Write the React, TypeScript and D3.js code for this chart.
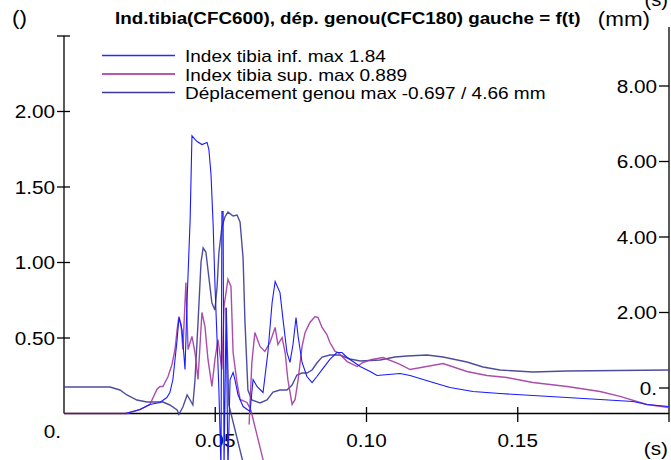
import * as d3 from 'd3'

type Pt = [number, number] | null

// time (s), value
const tibiaInf: Pt[] = [
  [0, 0], [0.0202, 0], [0.0251, 0.026], [0.0284, 0.06], [0.0317, 0.073], [0.034, 0.106],
  [0.035, 0.139], [0.036, 0.225], [0.0367, 0.358], [0.0374, 0.49], [0.038, 0.636], [0.039, 0.556],
  [0.04, 0.291], [0.0407, 0.755], [0.0417, 1.285], [0.0423, 1.84], [0.0433, 1.815], [0.044, 1.801],
  [0.0456, 1.781], [0.0473, 1.795], [0.0479, 1.748], [0.0486, 1.583], [0.0493, 1.252], [0.0499, 0.854],
  [0.0506, 0.49], [0.0512, 0.159], [0.0519, -0.37], [0.0522, 1.338], [0.0526, 1.338], [0.0529, -0.37],
  [0.0536, 0.702], [0.0542, -0.37], [0.0549, 0.225], [0.0559, 0.272], [0.0565, 0.225], [0.0575, 0.126],
  [0.0592, 0.046], [0.0615, 0.013], [0.0625, 0.225], [0.0638, 0.179], [0.0658, 0.139], [0.0674, 0.404],
  [0.0688, 0.735], [0.0698, 0.874], [0.0714, 0.801], [0.0724, 0.623], [0.0737, 0.404], [0.0747, 0.338],
  [0.0757, 0.457], [0.0767, 0.636], [0.0774, 0.51], [0.0787, 0.338], [0.0803, 0.245], [0.082, 0.205],
  [0.0836, 0.245], [0.0853, 0.291], [0.0879, 0.358], [0.0902, 0.404], [0.0919, 0.404], [0.0936, 0.371],
  [0.0979, 0.311], [0.1012, 0.278], [0.1035, 0.252], [0.1111, 0.265], [0.1144, 0.252], [0.122, 0.205],
  [0.1276, 0.172], [0.1352, 0.146], [0.1441, 0.132], [0.155, 0.119], [0.1663, 0.106], [0.1772, 0.093],
  [0.1881, 0.079], [0.1927, 0.06], [0.2, 0.046],
]

const tibiaSup: Pt[] = [
  [0, 0], [0.0208, 0], [0.0251, 0.026], [0.0284, 0.06], [0.0307, 0.159], [0.0317, 0.179], [0.0327, 0.179],
  [0.0344, 0.245], [0.0357, 0.325], [0.0367, 0.424], [0.0374, 0.556], [0.038, 0.642], [0.0387, 0.589],
  [0.0393, 0.424], [0.0403, 0.868], [0.041, 0.424], [0.0423, 0.51], [0.0433, 0.404], [0.0443, 0.225],
  [0.0456, 0.669], [0.0466, 0.576], [0.0476, 0.358], [0.0489, 0.179], [0.0499, 0.358], [0.0509, 0.49],
  [0.0522, 0.291], [0.0529, 0.709], [0.0542, 0.889], [0.0552, 0.841], [0.0559, 0.404], [0.0572, 0.205],
  [0.0582, 0.093], [0.0605, 0.073], [0.0618, 0.02], [0.0658, -0.305], [0.0668, -0.4],
  null,
  [0.0612, -0.073], [0.0621, 0.338], [0.0631, 0.536], [0.0648, 0.444], [0.0664, 0.411], [0.0681, 0.47],
  [0.0698, 0.57], [0.0707, 0.457], [0.0721, 0.503], [0.0731, 0.404], [0.074, 0.225], [0.0754, 0.06],
  [0.0764, 0.093], [0.0774, 0.225], [0.0787, 0.444], [0.0797, 0.536], [0.0813, 0.603], [0.083, 0.642],
  [0.084, 0.636], [0.0853, 0.57], [0.0869, 0.523], [0.0879, 0.47], [0.0896, 0.411], [0.0906, 0.404],
  [0.0936, 0.344], [0.0969, 0.311], [0.0988, 0.338], [0.1018, 0.358], [0.1055, 0.371], [0.1111, 0.325],
  [0.1144, 0.291], [0.1253, 0.331], [0.1332, 0.278], [0.1398, 0.252], [0.1464, 0.238], [0.155, 0.205],
  [0.1663, 0.179], [0.1772, 0.146], [0.1838, 0.113], [0.1927, 0.06], [0.2, 0.04],
]

// right axis (mm)
const deplGenou: Pt[] = [
  [0, 0.026], [0.0152, 0.026], [0.0185, -0.053], [0.0208, -0.185], [0.0241, -0.318], [0.0274, -0.371],
  [0.0327, -0.371], [0.035, -0.45], [0.0374, -0.583], [0.038, -0.697], [0.0393, -0.503], [0.0407, -0.185],
  [0.0417, -0.318], [0.0426, -0.45], [0.0433, 0.212], [0.0443, 1.722], [0.0453, 3.338], [0.046, 3.709],
  [0.0469, 3.603], [0.0476, 3.126], [0.0489, 2.252], [0.0499, 2.066], [0.0506, 2.675], [0.0512, 3.576],
  [0.0522, 4.265], [0.0532, 4.53], [0.0542, 4.66], [0.0559, 4.556], [0.0572, 4.583], [0.0582, 4.397],
  [0.0592, 3.444], [0.0598, 1.8], [0.0608, -0.053], [0.0621, -0.318], [0.0648, -0.397], [0.0671, -0.318],
  [0.0691, -0.106], [0.0714, -0.053], [0.0737, -0.053], [0.0754, 0.079], [0.077, 0.344], [0.0787, 0.397],
  [0.0803, 0.397], [0.082, 0.477], [0.0836, 0.662], [0.0853, 0.821], [0.0879, 0.874], [0.0912, 0.874],
  [0.0945, 0.768], [0.0979, 0.715], [0.1045, 0.742], [0.1094, 0.821], [0.1134, 0.848], [0.12, 0.874],
  [0.1253, 0.821], [0.1332, 0.689], [0.1385, 0.556], [0.1441, 0.477], [0.155, 0.424], [0.1663, 0.45],
  [0.2, 0.477],
  null,
  [0.0536, 2.12], [0.0545, -0.45], [0.0602, -2.3],
]

const xTicks = [0.05, 0.1, 0.15]
const leftTicks = [0.5, 1.0, 1.5, 2.0]
const rightTicks = [2, 4, 6, 8]

const legendItems = [
  { label: 'Index tibia inf. max 1.84', color: '#2a2aff' },
  { label: 'Index tibia sup. max 0.889', color: '#a01ea0' },
  { label: 'Déplacement genou max -0.697 / 4.66 mm', color: '#3a3a96' },
]

const W = 671
const H = 460
const FONT = '"Liberation Sans", Arial, sans-serif'
const STRETCH = 1.12

const x = d3.scaleLinear().domain([0, 0.2]).range([64, 669])
const yL = d3.scaleLinear().domain([0, 2.5]).range([413.5, 36])
const yR = d3.scaleLinear().domain([0, 8]).range([388, 86])

// text drawn slightly wider than Arial, like the original plot
const Label = ({ x, y, size = 18, anchor = 'start', bold = false, children }: any) => (
  <g transform={`translate(${x},${y}) scale(${STRETCH},1)`}>
    <text textAnchor={anchor} fontSize={size} fontWeight={bold ? 'bold' : 'normal'} fontFamily={FONT} fill="#000">
      {children}
    </text>
  </g>
)

const App = () => {
  const lineL = d3.line<Pt>()
    .defined(d => d !== null)
    .x(d => x(d![0]))
    .y(d => yL(d![1]))
  const lineR = d3.line<Pt>()
    .defined(d => d !== null)
    .x(d => x(d![0]))
    .y(d => yR(d![1]))

  const axisY = yL(0)

  return (
    <svg width={W} height={H} style={{ position: 'fixed', top: 0, left: 0, background: '#fff' }}>
      <rect width={W} height={H} fill="#fff" />

      {/* titles and units */}
      <Label x={12} y={25} size={20}>()</Label>
      <Label x={115} y={24} size={16.8} bold>Ind.tibia(CFC600), dép. genou(CFC180) gauche = f(t)</Label>
      <Label x={650} y={26} size={20} anchor="end">(mm)</Label>
      <Label x={668} y={6} size={18} anchor="end">(s)</Label>

      {/* legend */}
      {legendItems.map((d, i) => (
        <g key={d.label}>
          <line x1={102} x2={175} y1={55.5 + i * 18.5} y2={55.5 + i * 18.5} stroke={d.color} strokeWidth={1.3} />
          <Label x={185} y={62 + i * 18.5} size={17}>{d.label}</Label>
        </g>
      ))}

      {/* axes */}
      <g stroke="#000" strokeWidth={1.3} fill="none">
        <line x1={64} x2={64} y1={yL(2.5)} y2={axisY} />
        <line x1={57} x2={70} y1={yL(2.5)} y2={yL(2.5)} />
        {leftTicks.map(t => <line key={t} x1={57} x2={70} y1={yL(t)} y2={yL(t)} />)}
        <line x1={64} x2={669} y1={axisY} y2={axisY} />
        {xTicks.map(t => <line key={t} x1={x(t)} x2={x(t)} y1={407} y2={422} />)}
        <line x1={669} x2={669} y1={27} y2={422} />
        {rightTicks.concat([0]).map(t => <line key={t} x1={659} x2={669} y1={yR(t)} y2={yR(t)} />)}
      </g>

      {leftTicks.map(t => (
        <Label key={t} x={55} y={yL(t) + 6.5} size={18.5} anchor="end">{t.toFixed(2)}</Label>
      ))}
      <Label x={61} y={438} size={18.5} anchor="end">0.</Label>
      {rightTicks.map(t => (
        <Label key={t} x={657} y={yR(t) + 6.5} size={18.5} anchor="end">{t.toFixed(2)}</Label>
      ))}
      <Label x={657} y={yR(0) + 6.5} size={18.5} anchor="end">0.</Label>
      {xTicks.map(t => (
        <Label key={t} x={x(t)} y={447} size={18.5} anchor="middle">{t.toFixed(2)}</Label>
      ))}
      <Label x={668} y={455} size={18.5} anchor="end">(s)</Label>

      {/* curves */}
      <path d={lineR(deplGenou) || ''} fill="none" stroke="#3a3a96" strokeWidth={1.4} strokeOpacity={0.9} />
      <path d={lineL(tibiaSup) || ''} fill="none" stroke="#a23aa2" strokeWidth={1.4} strokeOpacity={0.9} />
      <path d={lineL(tibiaInf) || ''} fill="none" stroke="#1a1aff" strokeWidth={1.1} />
    </svg>
  )
}

export default App
